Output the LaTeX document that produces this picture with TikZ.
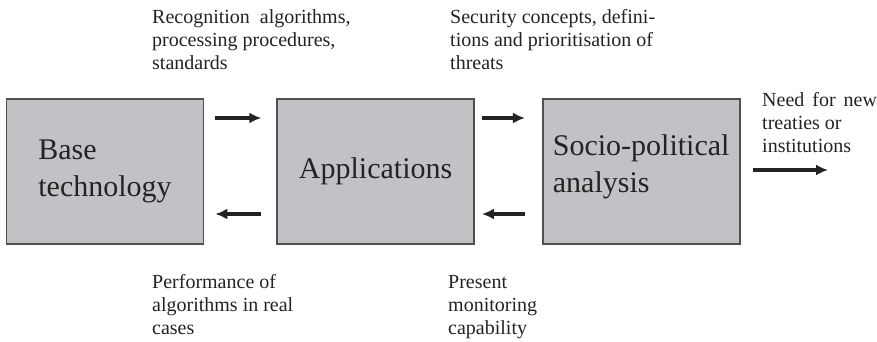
\documentclass[tikz,border=0pt]{standalone}
\usepackage{fontspec}
\setmainfont{Liberation Serif}
\usetikzlibrary{arrows.meta,positioning}
\definecolor{boxfill}{RGB}{193,194,198}
\definecolor{boxline}{RGB}{80,80,80}
\definecolor{ink}{RGB}{35,35,35}

\begin{document}
\begin{tikzpicture}[
    x=1pt,y=-1pt,
    node distance=72pt and 72pt,
    box/.style={draw=boxline,line width=1.6pt,fill=boxfill,text=ink,
      minimum width=197pt,minimum height=145pt,align=left,
      font=\fontsize{30}{37}\selectfont},
    note/.style={anchor=base west,align=left,inner sep=0pt,text=ink,
      font=\fontsize{20}{23}\selectfont},
    flow/.style={->,line width=3.2pt,draw=ink},
    >={Latex[length=12pt,width=11pt]}]
  \useasboundingbox (0,0) rectangle (877,342);
  \node[box] (base) at (105,171.5) {Base\\technology};
  \node[box,right=of base] (app) {Applications};
  \node[box,right=67pt of app,text depth=16pt] (socio) {Socio-political\\analysis};
  \coordinate (out) at (828,170);
  % forward and backward flows
  \draw[flow,shorten <=11pt,shorten >=15pt] ([yshift=53.5pt]base.east) -- ([yshift=53.5pt]app.west);
  \draw[flow,shorten <=7pt,shorten >=17pt] ([yshift=53.5pt]app.east) -- ([yshift=53.5pt]socio.west);
  \draw[flow,shorten <=15pt,shorten >=11pt] ([yshift=-42.5pt]app.west) -- ([yshift=-42.5pt]base.east);
  \draw[flow,shorten <=17pt,shorten >=7pt] ([yshift=-42.5pt]socio.west) -- ([yshift=-42.5pt]app.east);
  \draw[flow,shorten <=12pt] (socio.east |- out) -- (out);
  % labels (anchored at the last baseline)
  \node[note] (recog) at (152,70) {Recognition\ \ algorithms,\\processing procedures,\\standards};
  \node[note] (secur) at (450,70) {Security concepts, defini-\\tions and prioritisation of\\threats};
  \node[note] (need) at (762,152) {Need\hspace{8pt}for\hspace{8pt}new\\treaties or\\institutions};
  \node[note] (perf) at (152,334) {Performance of\\algorithms in real\\cases};
  \node[note] (monit) at (448,334) {Present\\monitoring\\capability};
\end{tikzpicture}
\end{document}
